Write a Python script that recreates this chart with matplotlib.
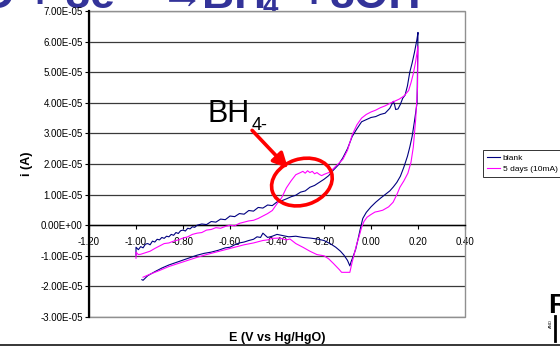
import numpy as np
import matplotlib
matplotlib.use('Agg')
import matplotlib.pyplot as plt
from matplotlib.patches import Ellipse, Rectangle
from matplotlib.lines import Line2D
import matplotlib.transforms as mtransforms

plt.rcParams['font.family'] = ['Liberation Sans', 'DejaVu Sans']

# ---- datos (corriente en unidades de 1e-5 A) ----
e_blank_fwd = [-1.000, -1.000, -0.990, -0.980, -0.970, -0.960, -0.950, -0.940, -0.930, -0.920,
               -0.910, -0.900, -0.890, -0.880, -0.870, -0.860, -0.850, -0.840, -0.830, -0.820,
               -0.810, -0.800, -0.790, -0.780, -0.770, -0.760, -0.750, -0.740, -0.720, -0.700,
               -0.680, -0.660, -0.640, -0.620, -0.600, -0.580, -0.560, -0.540, -0.520, -0.500,
               -0.480, -0.460, -0.440, -0.420, -0.400, -0.380, -0.360, -0.340, -0.320, -0.300,
               -0.280, -0.260, -0.240, -0.220, -0.200, -0.180, -0.160, -0.140, -0.120, -0.100,
               -0.080, -0.060, -0.040, -0.020, 0.000, 0.020, 0.040, 0.060, 0.080, 0.095,
               0.100, 0.105, 0.115, 0.125, 0.135, 0.145, 0.155, 0.165, 0.175, 0.185, 0.195, 0.200]
i_blank_fwd = [-0.98, -0.72, -0.80, -0.70, -0.74, -0.62, -0.60, -0.64, -0.52, -0.55,
               -0.46, -0.48, -0.40, -0.43, -0.36, -0.38, -0.30, -0.33, -0.24, -0.27,
               -0.18, -0.16, -0.19, -0.10, -0.12, -0.05, -0.07, 0.00, 0.04, 0.02,
               0.12, 0.10, 0.20, 0.18, 0.30, 0.28, 0.38, 0.36, 0.48, 0.46,
               0.58, 0.56, 0.66, 0.64, 0.76, 0.80, 0.86, 0.93, 0.98, 1.08,
               1.12, 1.24, 1.30, 1.40, 1.50, 1.62, 1.80, 1.96, 2.20, 2.50,
               2.90, 3.15, 3.38, 3.45, 3.52, 3.55, 3.62, 3.66, 3.82, 4.05,
               3.95, 3.78, 3.80, 3.95, 4.15, 4.25, 4.55, 5.00, 5.30, 5.65, 6.05, 6.30]

e_blank_rev = [0.200, 0.196, 0.185, 0.175, 0.165, 0.155, 0.140, 0.125, 0.110, 0.095,
               0.080, 0.060, 0.040, 0.020, 0.000, -0.020, -0.035, -0.045, -0.055, -0.065,
               -0.075, -0.085, -0.090, -0.100, -0.115, -0.130, -0.150, -0.170, -0.200, -0.230,
               -0.260, -0.290, -0.320, -0.350, -0.380, -0.400, -0.420, -0.440, -0.460, -0.470,
               -0.485, -0.500, -0.520, -0.540, -0.560, -0.580, -0.600, -0.620, -0.650, -0.680,
               -0.710, -0.740, -0.770, -0.800, -0.830, -0.860, -0.890, -0.920, -0.950, -0.970, -0.975]
i_blank_rev = [6.30, 4.00, 3.40, 2.90, 2.55, 2.25, 1.90, 1.60, 1.40, 1.25,
               1.12, 1.00, 0.88, 0.75, 0.60, 0.42, 0.22, -0.10, -0.45, -0.78,
               -1.00, -1.20, -1.33, -1.15, -0.98, -0.85, -0.72, -0.62, -0.50, -0.45,
               -0.42, -0.40, -0.36, -0.38, -0.33, -0.30, -0.36, -0.40, -0.26, -0.40,
               -0.38, -0.46, -0.50, -0.55, -0.58, -0.64, -0.72, -0.74, -0.82, -0.88,
               -0.92, -0.98, -1.06, -1.14, -1.22, -1.30, -1.40, -1.52, -1.65, -1.80, -1.78]

e_5d_fwd = [-1.000, -1.000, -0.990, -0.980, -0.960, -0.940, -0.920, -0.900, -0.880, -0.860,
            -0.840, -0.820, -0.800, -0.780, -0.760, -0.740, -0.720, -0.700, -0.680, -0.660,
            -0.640, -0.620, -0.600, -0.580, -0.560, -0.540, -0.520, -0.500, -0.480, -0.460,
            -0.440, -0.420, -0.400, -0.380, -0.360, -0.340, -0.320, -0.300, -0.290, -0.280,
            -0.270, -0.260, -0.250, -0.240, -0.230, -0.220, -0.210, -0.200, -0.180, -0.160,
            -0.140, -0.120, -0.100, -0.080, -0.060, -0.040, -0.020, 0.000, 0.020, 0.040,
            0.060, 0.080, 0.100, 0.120, 0.140, 0.160, 0.170, 0.180, 0.190, 0.200]
i_5d_fwd = [-1.08, -0.88, -0.96, -0.95, -0.90, -0.85, -0.76, -0.68, -0.60, -0.58,
            -0.52, -0.48, -0.42, -0.38, -0.30, -0.26, -0.24, -0.16, -0.14, -0.08,
            -0.10, -0.04, 0.00, -0.02, 0.06, 0.10, 0.14, 0.16, 0.22, 0.30,
            0.38, 0.48, 0.70, 0.90, 1.22, 1.45, 1.65, 1.72, 1.76, 1.70,
            1.78, 1.72, 1.76, 1.68, 1.72, 1.66, 1.62, 1.66, 1.72, 1.85,
            2.00, 2.15, 2.45, 2.95, 3.28, 3.50, 3.62, 3.70, 3.76, 3.84,
            3.90, 3.98, 4.05, 4.12, 4.22, 4.40, 4.65, 4.95, 5.35, 5.85]

e_5d_rev = [0.200, 0.198, 0.190, 0.180, 0.170, 0.157, 0.140, 0.123, 0.110, 0.094,
            0.075, 0.050, 0.030, 0.017, 0.000, -0.017, -0.030, -0.040, -0.050, -0.060,
            -0.070, -0.080, -0.090, -0.110, -0.125, -0.135, -0.145, -0.160, -0.180, -0.200,
            -0.230, -0.260, -0.290, -0.320, -0.345, -0.360, -0.390, -0.420, -0.440, -0.460,
            -0.500, -0.540, -0.580, -0.620, -0.660, -0.700, -0.740, -0.780, -0.820, -0.860,
            -0.900, -0.940, -0.970]
i_5d_rev = [5.85, 4.50, 3.45, 2.55, 2.05, 1.70, 1.45, 1.24, 1.00, 0.75,
            0.60, 0.49, 0.45, 0.43, 0.35, 0.26, 0.12, -0.07, -0.35, -0.60,
            -0.90, -1.20, -1.54, -1.54, -1.54, -1.45, -1.37, -1.25, -1.10, -1.00,
            -0.96, -0.85, -0.72, -0.60, -0.45, -0.48, -0.42, -0.43, -0.48, -0.50,
            -0.58, -0.64, -0.72, -0.80, -0.88, -0.96, -1.05, -1.15, -1.25, -1.35,
            -1.48, -1.60, -1.70]

series_names = ['blank', '5 days (10mA)']
series_colors = ['#000080', '#FF00FF']
x_ticks = [-1.2, -1.0, -0.8, -0.6, -0.4, -0.2, 0.0, 0.2, 0.4]
y_ticks = [-3e-5, -2e-5, -1e-5, 0, 1e-5, 2e-5, 3e-5, 4e-5, 5e-5, 6e-5, 7e-5]

E_blank = np.array(e_blank_fwd + e_blank_rev)
I_blank = np.array(i_blank_fwd + i_blank_rev) * 1e-5
E_5d = np.array(e_5d_fwd + e_5d_rev)
I_5d = np.array(i_5d_fwd + i_5d_rev) * 1e-5

fig = plt.figure(figsize=(5.6, 3.46), dpi=100)
ax = fig.add_axes([89/560, 1-317/346, (465-89)/560, (317-11)/346])

for yy in y_ticks:
    ax.axhline(yy, color='#3a3a3a', lw=0.9, zorder=1)

ax.plot(E_blank, I_blank, color=series_colors[0], lw=0.8, label=series_names[0], zorder=3)
ax.plot(E_5d, I_5d, color=series_colors[1], lw=0.8, label=series_names[1], zorder=3)

ax.set_xlim(-1.2, 0.4)
ax.set_ylim(-3e-5, 7e-5)
ax.set_xticks(x_ticks)
ax.set_xticklabels(['%.2f' % v for v in x_ticks])
ax.set_yticks(y_ticks)
ax.set_yticklabels(['%.2E' % v for v in y_ticks])

ax.spines['bottom'].set_position(('data', 0))
ax.spines['bottom'].set_linewidth(1.0)
ax.spines['left'].set_linewidth(1.6)
ax.spines['top'].set_visible(False)
ax.spines['right'].set_visible(False)
ax.add_patch(Rectangle((0, 0), 1, 1, transform=ax.transAxes, fill=False,
                       ec='#909090', lw=1.0, zorder=2, clip_on=False))
ax.tick_params(axis='x', direction='out', length=3, width=0.8, pad=5.5, labelsize=7)
ax.tick_params(axis='y', direction='out', length=3, width=0.8, pad=1.5, labelsize=7)

ax.set_xlabel('E (V vs Hg/HgO)', fontsize=9, fontweight='bold')
ax.xaxis.set_label_coords(0.5, -0.05)
ax.set_ylabel('i (A)', fontsize=9, fontweight='bold')
ax.yaxis.set_label_coords(-0.15, 0.5)

# elipse y flecha sobre el pico de BH4-
tr = fig.dpi_scale_trans + mtransforms.ScaledTranslation(-0.294, 1.41e-5, ax.transData)
ax.add_patch(Ellipse((0, 0), 0.62, 0.46, angle=18, transform=tr, fill=False,
                     ec='#FF0000', lw=2.6, zorder=4))
ax.annotate('', xy=(-0.353, 1.86e-5), xytext=(-0.506, 3.10e-5),
            arrowprops=dict(arrowstyle='-|>', color='#FF0000', lw=2.6, mutation_scale=22,
                            shrinkA=0, shrinkB=0), zorder=4)
ax.text(-0.694, 3.37e-5, 'BH', fontsize=22, va='baseline', ha='left', zorder=5)
ax.annotate('4-', xy=(-0.694, 3.37e-5), xytext=(31.5, -6), textcoords='offset points',
            fontsize=13, va='baseline', ha='left', zorder=5)

ax.legend(loc='center left', bbox_to_anchor=(483/560, 1-163.5/346),
          bbox_transform=fig.transFigure, fontsize=6, frameon=True, fancybox=False,
          edgecolor='black', handlelength=1.6, handletextpad=0.3, borderpad=0.45,
          labelspacing=0.45, borderaxespad=0)
ax.get_legend().get_frame().set_linewidth(0.7)

# titulo de la diapositiva (recortado arriba)
tcol = '#333399'
yb = 1 - 7.5/346
for txt, xp, fs, dy in [('O + 8e', -20, 32, 0), ('\u2192', 160, 32, 0), ('BH', 202, 32, 0),
                        ('4', 263, 20, -7), ('+', 300, 32, 0), ('8OH', 330, 32, 0)]:
    fig.text(xp/560, yb + dy/346, txt, fontsize=fs, fontweight='bold', color=tcol,
             va='baseline', ha='left', zorder=-1)

# restos de la diapositiva
fig.add_artist(Line2D([0, 1], [1-344.5/346, 1-344.5/346], color='black', lw=1.1,
                      transform=fig.transFigure))
fig.text(548/560, 1-313/346, 'R', fontsize=20, fontweight='bold', color='black',
         va='baseline', ha='left')
fig.add_artist(Line2D([555/560, 555/560], [1-316/346, 1-341/346], color='black', lw=2,
                      transform=fig.transFigure))
fig.text(549/560, 1-324/346, 'AND', fontsize=3, rotation=90, color='black',
         va='center', ha='left')

fig.savefig('out.png', dpi=100)
